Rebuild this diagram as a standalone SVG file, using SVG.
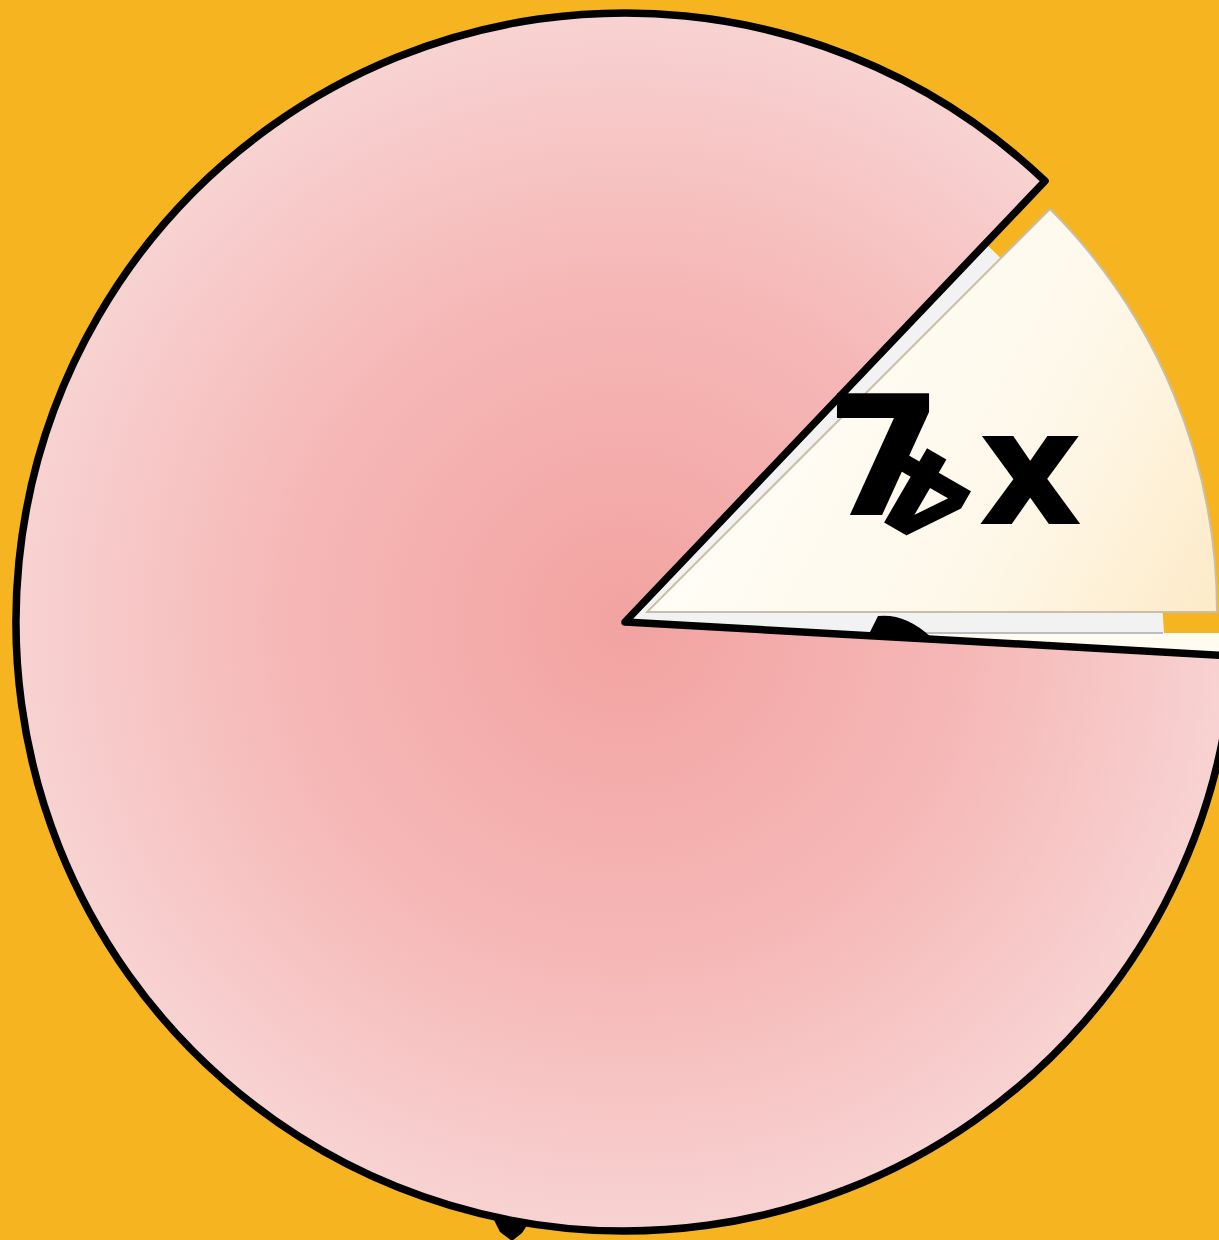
<svg xmlns="http://www.w3.org/2000/svg" width="1219" height="1240" viewBox="0 0 1219 1240">
  <defs>
    <radialGradient id="pinkGrad" gradientUnits="userSpaceOnUse" cx="625" cy="622" r="609">
      <stop offset="0" stop-color="#F2A3A1"/>
      <stop offset="0.55" stop-color="#F5B7B6"/>
      <stop offset="1" stop-color="#F8D2D2"/>
    </radialGradient>
    <linearGradient id="creamGrad" gradientUnits="userSpaceOnUse" x1="700" y1="350" x2="1200" y2="620">
      <stop offset="0" stop-color="#FFFEF9"/>
      <stop offset="0.6" stop-color="#FEF8EA"/>
      <stop offset="1" stop-color="#FDEBC9"/>
    </linearGradient>
    <style>
      .outline { stroke: #000; stroke-width: 7.5; stroke-linejoin: round; }
      .glyph { font-family: "DejaVu Sans", "Liberation Sans", sans-serif; font-weight: 700; fill: #000; stroke: #000; stroke-width: 2; }
      .shadowline { fill: none; stroke: #BDBDBD; stroke-width: 2; }
    </style>
  </defs>

  <rect id="background" x="0" y="0" width="1219" height="1240" fill="#F7B421"/>

  <g id="slice-base">
    <path d="M830,633 L1225,633 L1225,660 Z" fill="#FFFBF0"/>
    <path d="M625,622 L986,244 A560,560 0 0 1 1164,633 L830,633 Z" fill="#F2F2F2"/>
    <path class="shadowline" d="M830,633 L1163,633"/>
  </g>

  <g id="pie">
    <path class="outline" fill="url(#pinkGrad)" d="M625,622 L1045,181 A609,609 0 1 0 1233,656 Z"/>
  </g>

  <g id="slice">
    <path d="M647,612 L1050,209 A570,570 0 0 1 1217,612 Z" fill="url(#creamGrad)" stroke="#C9BFA8" stroke-width="2"/>
  </g>

  <g id="marks">
    <path d="M869,634 L878,616 Q905,613 931,637 Z" fill="#000"/>
    <path d="M494,1220 L500,1232 L512,1241 L522,1233 L528,1224 Z" fill="#000"/>
  </g>

  <g id="labels">
    <text class="glyph" x="827" y="514" font-size="164">7</text>
    <g transform="translate(947,461)">
      <text class="glyph" text-anchor="middle" font-size="115" transform="rotate(210)">4</text>
    </g>
    <text class="glyph" x="980" y="523" font-size="156">x</text>
  </g>
</svg>
